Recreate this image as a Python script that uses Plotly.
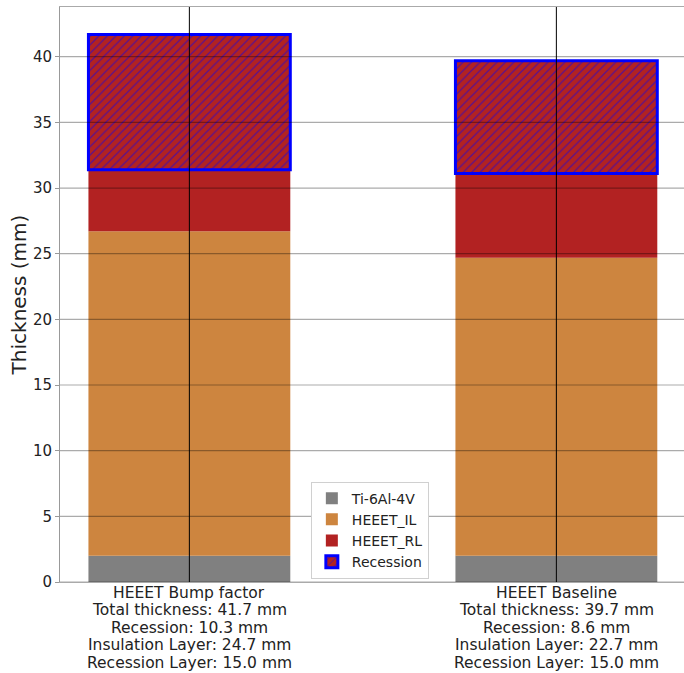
import plotly.graph_objects as go

# Stack data (mm)
configs = ["HEEET Bump factor", "HEEET Baseline"]
ti_layer = [2.0, 2.0]
insulation = [24.7, 22.7]
recession_layer = [15.0, 15.0]
recession = [10.3, 8.6]
y_ticks = [0, 5, 10, 15, 20, 25, 30, 35, 40]

xpos = list(range(len(configs)))
totals = [a + b + c for a, b, c in zip(ti_layer, insulation, recession_layer)]
rl_base = [a + b for a, b in zip(ti_layer, insulation)]
rec_base = [t - r for t, r in zip(totals, recession)]

label_lines = [
    [name, f"Total thickness: {t:.1f} mm", f"Recession: {r:.1f} mm",
     f"Insulation Layer: {il:.1f} mm", f"Recession Layer: {rl:.1f} mm"]
    for name, t, r, il, rl in zip(configs, totals, recession, insulation, recession_layer)
]

W = 0.55
fig = go.Figure()
fig.add_trace(go.Bar(x=xpos, y=ti_layer, base=[0, 0], width=W, name="Ti-6Al-4V",
                     marker=dict(color="#808080", line=dict(width=0))))
fig.add_trace(go.Bar(x=xpos, y=insulation, base=ti_layer, width=W, name="HEEET_IL",
                     marker=dict(color="#CD853F", line=dict(width=0))))
fig.add_trace(go.Bar(x=xpos, y=recession_layer, base=rl_base, width=W, name="HEEET_RL",
                     marker=dict(color="#B22222", line=dict(width=0))))
fig.add_trace(go.Bar(x=xpos, y=recession, base=rec_base, width=W, name="Recession",
                     marker=dict(color="#B22222",
                                 line=dict(color="#0000FF", width=3),
                                 pattern=dict(shape="/", fgcolor="#0000FF", bgcolor="#B22222",
                                              fgopacity=0.5, size=6, solidity=0.2))))

# grid drawn on top of the bars
shapes = []
for v in y_ticks:
    shapes.append(dict(type="line", xref="paper", yref="y", x0=0, x1=1, y0=v, y1=v,
                       line=dict(color="rgba(0,0,0,0.33)", width=1.2), layer="above"))
for xp in xpos:
    shapes.append(dict(type="line", xref="x", yref="paper", x0=xp, x1=xp, y0=0, y1=1,
                       line=dict(color="black", width=1), layer="above"))

# multi-line category labels under each bar
LINE_H = 17.4
annotations = []
for xp, lines in zip(xpos, label_lines):
    for i, line in enumerate(lines):
        annotations.append(dict(x=xp, xref="x", y=0, yref="paper", text=line,
                                showarrow=False, xanchor="center", yanchor="top",
                                height=LINE_H, borderpad=0,
                                yshift=-1 - LINE_H * i,
                                font=dict(size=15.5, color="#222", family="DejaVu Sans")))

x_left = -W / 2 - 0.05 * (1 + W)
x_right = x_left + 624 / 367

fig.update_layout(
    width=684, height=673,
    margin=dict(l=60, r=0, t=7, b=91),
    plot_bgcolor="white", paper_bgcolor="white",
    barmode="overlay",
    shapes=shapes,
    annotations=annotations,
    font=dict(family="DejaVu Sans", color="#222", size=14),
    showlegend=True,
    legend=dict(x=0.402, y=0.006, xanchor="left", yanchor="bottom",
                bgcolor="white", bordercolor="#d0d0d0", borderwidth=1,
                font=dict(size=14), traceorder="normal",
                itemwidth=30, tracegroupgap=0),
    xaxis=dict(range=[x_left, x_right], tickvals=xpos,
               showticklabels=False,
               showgrid=False, zeroline=False, showline=True, mirror=True,
               linecolor="#aaaaaa", linewidth=1, ticks=""),
    yaxis=dict(range=[0, 43.785], tickvals=y_ticks, showgrid=False, zeroline=False,
               showline=True, linecolor="#999999", linewidth=1,
               ticks="outside", ticklen=4, tickcolor="#999999",
               tickfont=dict(size=15),
               title=dict(text="Thickness (mm)", font=dict(size=20), standoff=0)),
)

fig.write_html("out.html")
